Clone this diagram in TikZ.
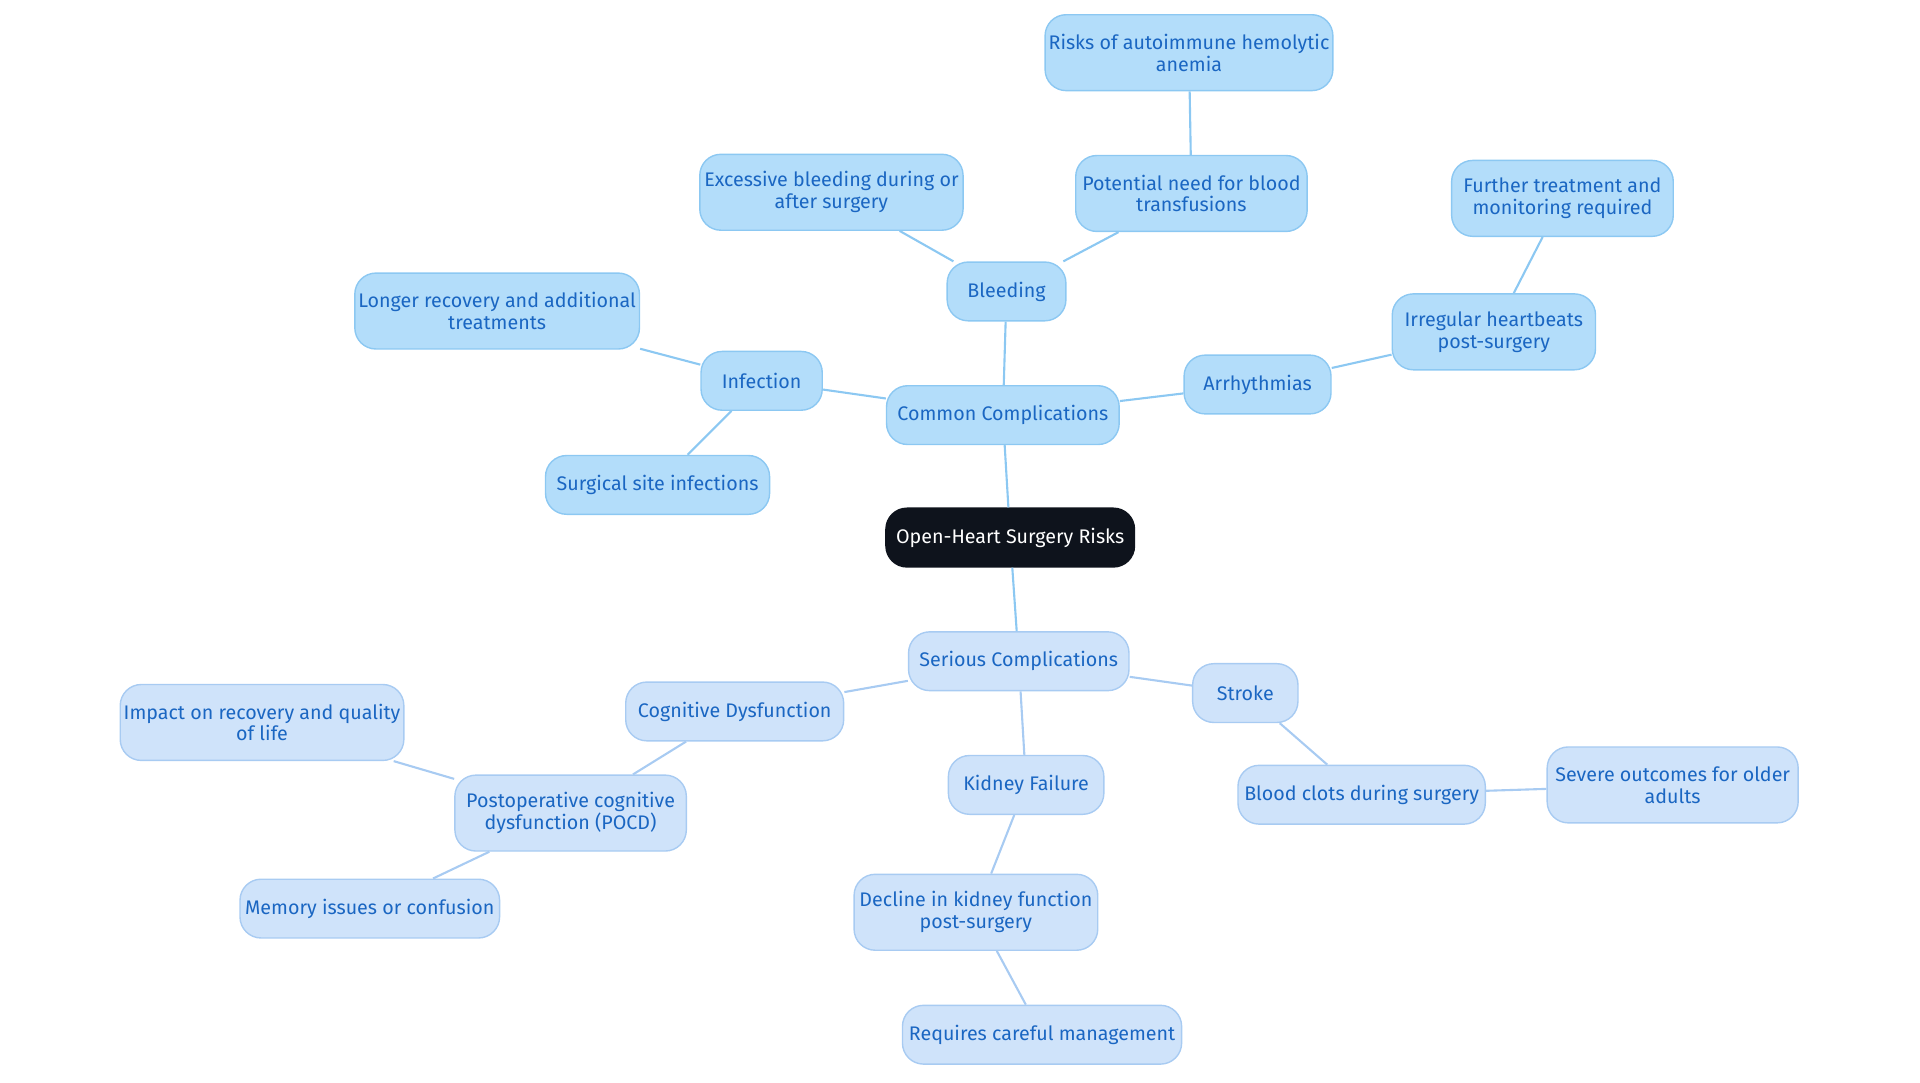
\documentclass[tikz,border=0pt]{standalone}
\usepackage{fontspec}
\setmainfont{Fira Sans}
\usetikzlibrary{positioning}
\definecolor{topfill}{HTML}{B3DDFA}
\definecolor{topline}{HTML}{8CC8F2}
\definecolor{lowfill}{HTML}{CFE3FA}
\definecolor{lowline}{HTML}{A8CBF2}
\definecolor{txt}{HTML}{1A66C2}
\definecolor{rootfill}{HTML}{0E131C}
\tikzset{
  box1/.style={rectangle, rounded corners=6pt, minimum height=48*0.01225cm, text centered, align=center, draw=topline, fill=topfill, text=txt, font=\fontsize{5.6}{6.2}\selectfont, inner sep=1pt},
  box2/.style={box1, draw=lowline, fill=lowfill},
  tall/.style={minimum height=62*0.01225cm},
  rootbox/.style={box1, draw=rootfill, fill=rootfill, text=white},
  link/.style={draw=topline, line width=0.6pt},
  link2/.style={draw=lowline, line width=0.6pt}
}
\begin{document}
\begin{tikzpicture}[x=0.01225cm, y=-0.01225cm]
	\useasboundingbox (0,0) rectangle (1568,884);
	
	\node (root) [rootbox, minimum width=203*0.01225cm] at (825,439) {Open-Heart Surgery Risks};
	\node (cc) [box1, minimum width=190*0.01225cm] at (819,339) {Common Complications};
	\node (sc) [box2, minimum width=180*0.01225cm] at (832,540) {Serious Complications};
	
	\node (bleed) [box1, minimum width=97*0.01225cm] at (822,238) {Bleeding};
	\node (exc) [box1, tall, minimum width=215*0.01225cm] at (679,157) {Excessive bleeding during or\\after surgery};
	\node (pot) [box1, tall, minimum width=189*0.01225cm] at (973,158) {Potential need for blood\\transfusions};
	\node (aut) [box1, tall, minimum width=235*0.01225cm] at (971,43) {Risks of autoimmune hemolytic\\anemia};
	\node (inf) [box1, minimum width=99*0.01225cm] at (622,311) {Infection};
	\node (lon) [box1, tall, minimum width=231*0.01225cm] at (406,254) {Longer recovery and additional\\treatments};
	\node (ssi) [box1, minimum width=183*0.01225cm] at (537,396) {Surgical site infections};
	\node (arr) [box1, minimum width=120*0.01225cm] at (1027,314) {Arrhythmias};
	\node (irr) [box1, tall, minimum width=166*0.01225cm] at (1220,271) {Irregular heartbeats\\post-surgery};
	\node (fur) [box1, tall, minimum width=181*0.01225cm] at (1276,162) {Further treatment and\\monitoring required};
	
	\node (cog) [box2, minimum width=178*0.01225cm] at (600,581) {Cognitive Dysfunction};
	\node (pocd) [box2, tall, minimum width=189*0.01225cm] at (466,664) {Postoperative cognitive\\dysfunction (POCD)};
	\node (imp) [box2, tall, minimum width=231*0.01225cm] at (214,590) {Impact on recovery and quality\\of life};
	\node (mem) [box2, minimum width=212*0.01225cm] at (302,742) {Memory issues or confusion};
	\node (kid) [box2, minimum width=127*0.01225cm] at (838,641) {Kidney Failure};
	\node (dec) [box2, tall, minimum width=199*0.01225cm] at (797,745) {Decline in kidney function\\post-surgery};
	\node (req) [box2, minimum width=228*0.01225cm] at (851,845) {Requires careful management};
	\node (str) [box2, minimum width=86*0.01225cm] at (1017,566) {Stroke};
	\node (blo) [box2, minimum width=202*0.01225cm] at (1112,649) {Blood clots during surgery};
	\node (sev) [box2, tall, minimum width=205*0.01225cm] at (1366,641) {Severe outcomes for older\\adults};
	
	\draw [link] (root) -- (cc);
	\draw [link] (cc) -- (bleed);
	\draw [link] (bleed) -- (exc);
	\draw [link] (bleed) -- (pot);
	\draw [link] (pot) -- (aut);
	\draw [link] (cc) -- (inf);
	\draw [link] (inf) -- (lon);
	\draw [link] (inf) -- (ssi);
	\draw [link] (cc) -- (arr);
	\draw [link] (arr) -- (irr);
	\draw [link] (irr) -- (fur);
	\draw [link] (root) -- (sc);
	\draw [link2] (sc) -- (cog);
	\draw [link2] (cog) -- (pocd);
	\draw [link2] (pocd) -- (imp);
	\draw [link2] (pocd) -- (mem);
	\draw [link2] (sc) -- (kid);
	\draw [link2] (kid) -- (dec);
	\draw [link2] (dec) -- (req);
	\draw [link2] (sc) -- (str);
	\draw [link2] (str) -- (blo);
	\draw [link2] (blo) -- (sev);
\end{tikzpicture}
\end{document}
